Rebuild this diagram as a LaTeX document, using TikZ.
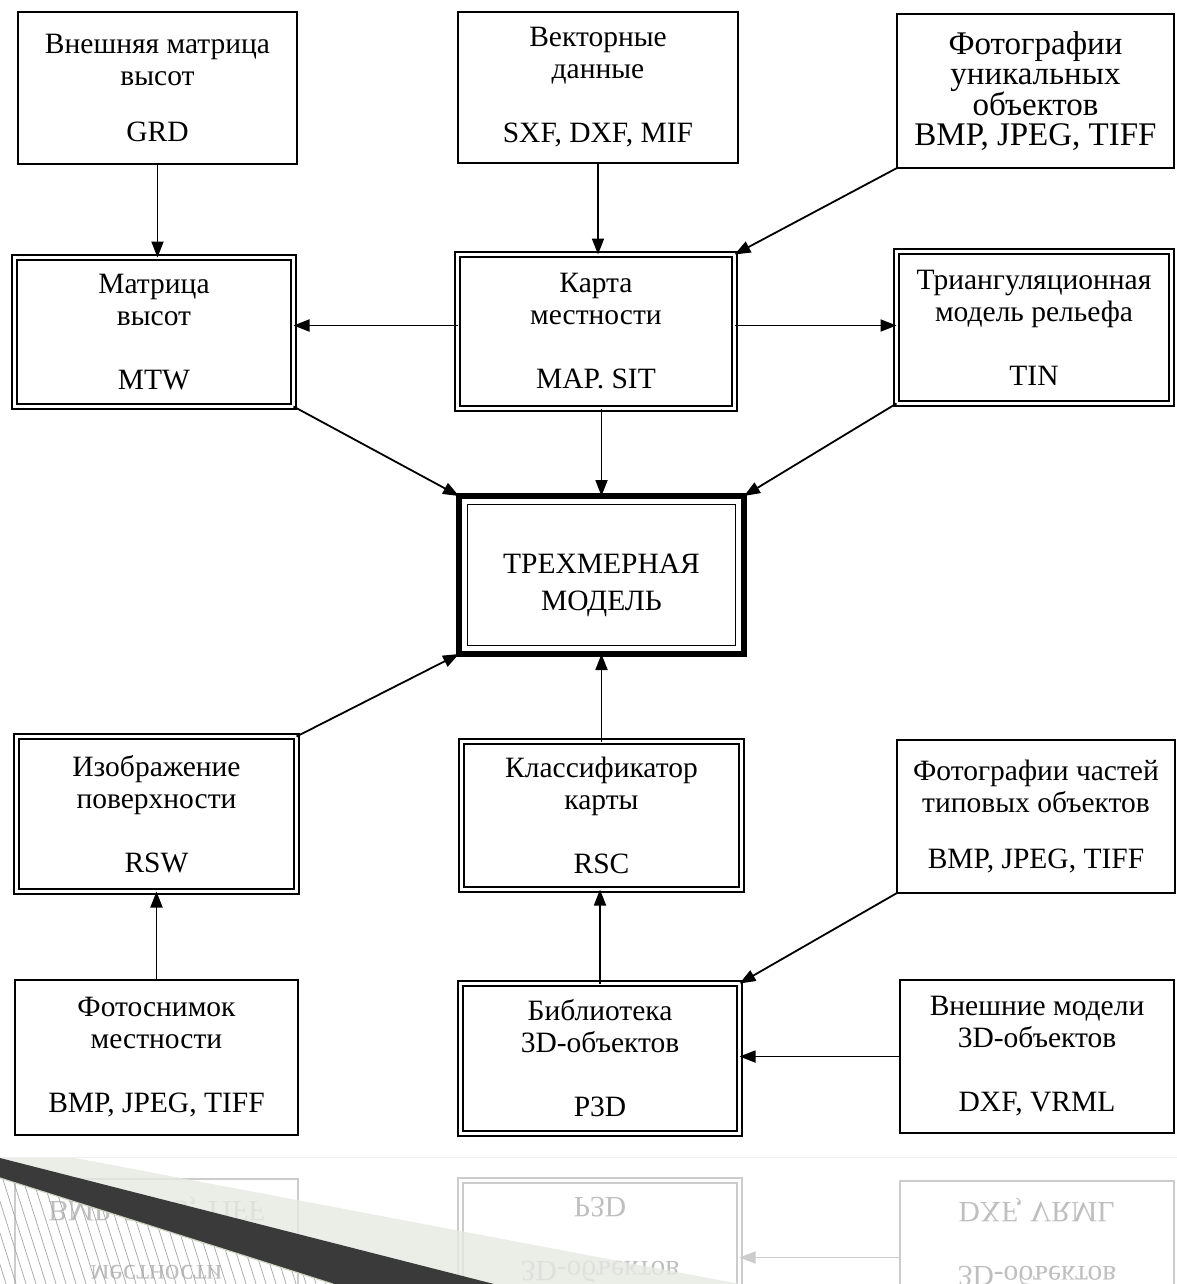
\documentclass[tikz,border=0pt]{standalone}
\usepackage{fontspec}
\setmainfont{Liberation Serif}
\usetikzlibrary{arrows.meta,calc}
\definecolor{lightband}{HTML}{E6E9E2}
\definecolor{darkband}{HTML}{3A3A3A}
\definecolor{edgeline}{HTML}{C9D4C1}
\begin{document}
\begin{tikzpicture}[x=1pt,y=-1pt,
  box/.style={draw, line width=1.8pt, rectangle, inner sep=0pt, outer sep=0pt, align=center,
              font=\fontsize{29.5}{32}\selectfont},
  dbox/.style={box, double, double distance=2.8pt, line width=1.7pt},
  arr/.style={line width=1.8pt, -{Triangle[length=16pt,width=12pt]}},
]
\useasboundingbox (0,0) rectangle (1177,1284);
\fill[white] (0,0) rectangle (1177,1284);

% row 1
\node[box, minimum width=279pt, minimum height=152pt] (A) at (157.5,88) {Внешняя матрица\\высот\\[24pt]GRD};
\node[box, minimum width=280pt, minimum height=151pt] (B) at (598,87.5) {Векторные\\данные\\[32pt]SXF, DXF, MIF};
\node[box, minimum width=277pt, minimum height=154pt, font=\fontsize{33}{30}\selectfont] (C) at (1035.5,91) {Фотографии\\уникальных\\объектов\\BMP, JPEG, TIFF};

% row 2
\node[dbox, minimum width=279pt, minimum height=149pt] (D) at (154,332) {Матрица\\высот\\[32pt]MTW};
\node[dbox, minimum width=277pt, minimum height=154pt] (E) at (596,331.5) {Карта\\местности\\[32pt]MAP. SIT};
\node[dbox, minimum width=275pt, minimum height=152pt] (F) at (1034,327.5) {Триангуляционная\\модель рельефа\\[32pt]TIN};

% centre
\node[draw, line width=6pt, rectangle, inner sep=0pt, outer sep=0pt, align=center,
      minimum width=285pt, minimum height=158pt, font=\fontsize{29.5}{37}\selectfont] (G) at (601.5,575)
      {\raisebox{-10pt}[\height][\depth]{\begin{tabular}{@{}c@{}}ТРЕХМЕРНАЯ\\МОДЕЛЬ\end{tabular}}};
\draw[line width=1.8pt] ([xshift=8.5pt,yshift=-8.5pt]G.north west) rectangle ([xshift=-8.5pt,yshift=8.5pt]G.south east);

% row 3
\node[dbox, minimum width=280pt, minimum height=155pt] (H) at (156.5,814) {Изображение\\поверхности\\[32pt]RSW};
\node[dbox, minimum width=280pt, minimum height=148pt] (I) at (601.5,815.5) {Классификатор\\карты\\[32pt]RSC};
\node[box, minimum width=278pt, minimum height=153pt] (J) at (1036,816.5) {Фотографии частей\\типовых объектов\\[24pt]BMP, JPEG, TIFF};

% row 4
\node[box, minimum width=283pt, minimum height=155pt] (K) at (156.5,1057.5) {Фотоснимок\\местности\\[32pt]BMP, JPEG, TIFF};
\node[dbox, minimum width=279pt, minimum height=150pt] (L) at (600,1058.5) {Библиотека\\3D-объектов\\[32pt]P3D};
\node[box, minimum width=274pt, minimum height=153pt] (M) at (1037,1056.5) {Внешние модели\\3D-объектов\\[32pt]DXF, VRML};

% connectors
\draw[arr] (A.south) -- (A.south |- D.north);
\draw[arr] (B.south) -- (B.south |- E.north);
\draw[arr] (C.south west) -- (E.north east);
\draw[arr] ([yshift=6pt]E.west) -- ([yshift=6pt]E.west -| D.east);
\draw[arr] ([yshift=6pt]E.east) -- ([yshift=6pt]E.east -| F.west);
\draw[arr] (D.south east) -- (G.north west);
\draw[arr] (G.north |- E.south) -- (G.north);
\draw[arr] (F.south west) -- (G.north east);
\draw[arr] (H.north east) -- (G.south west);
\draw[arr] (I.north) -- (I.north |- G.south);
\draw[arr] (K.north) -- (K.north |- H.south);
\draw[arr] (L.north) -- (L.north |- I.south);
\draw[arr] (J.south west) -- (L.north east);
\draw[arr] (M.west) -- (M.west -| L.east);

% reflection strip
\draw[gray!12, line width=1pt] (0,1157) -- (1177,1157);
\begin{scope}
\clip (0,1158) rectangle (1177,1284);
\begin{scope}[shift={(0,2314)}, yscale=-1, every node/.append style={transform shape}]
\node[box, draw=gray!40, text=gray!50, minimum width=283pt, minimum height=155pt] (Kr) at (156.5,1057.5) {Фотоснимок\\местности\\[32pt]BMP, JPEG, TIFF};
\node[dbox, draw=gray!40, text=gray!50, minimum width=279pt, minimum height=150pt] (Lr) at (600,1058.5) {Библиотека\\3D-объектов\\[32pt]P3D};
\node[box, draw=gray!40, text=gray!50, minimum width=274pt, minimum height=153pt] (Mr) at (1037,1056.5) {Внешние модели\\3D-объектов\\[32pt]DXF, VRML};
\draw[arr, gray!40] (Mr.west) -- (Mr.west -| Lr.east);
\end{scope}
\end{scope}

% hatch
\begin{scope}
\clip (0,1178) -- (333,1284) -- (0,1284) -- cycle;
\foreach \i in {-10,...,40}
  \draw[gray!70, line width=0.7pt] (\i*10,1170) -- (\i*10+38,1290);
\end{scope}

% light band
\fill[lightband, opacity=0.8] (75,1158) -- (740,1284) -- (494,1284) -- (0,1158) -- cycle;
% dark band
\fill[darkband] (0,1158) -- (494,1284) -- (333,1284) -- (0,1178) -- cycle;
\draw[edgeline, line width=1.2pt] (0,1178) -- (333,1284);
\end{tikzpicture}
\end{document}
